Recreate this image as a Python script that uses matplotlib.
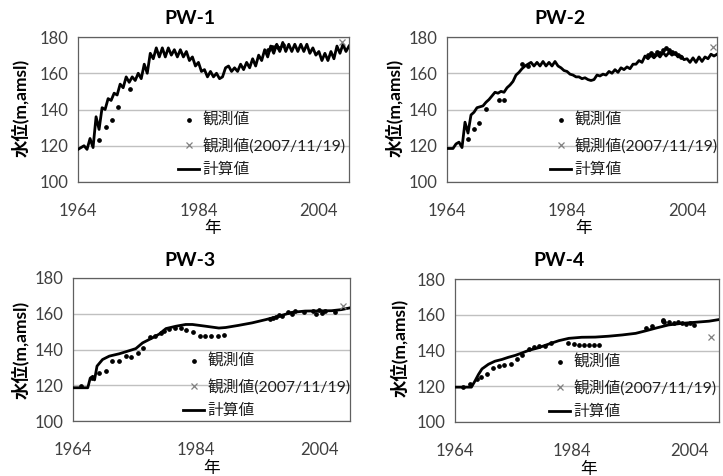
import numpy as np
import matplotlib
matplotlib.use("Agg")
import matplotlib.pyplot as plt
from matplotlib.lines import Line2D

plt.rcParams['font.family'] = ['Lato', 'Noto Sans CJK JP', 'DejaVu Sans']

# 計算値 PW-1, PW-2 : 半年ごとの値 (1964.0 から 2009.0)
calc_start = 1964.0
calc_step = 0.5
calc1 = [118, 119, 120, 118, 124, 119, 136, 129, 141, 140,
         146, 145, 149, 148, 154, 152, 158, 155, 158, 156,
         160, 157, 165, 160, 171, 168, 174, 169, 174, 169,
         174, 170, 173, 169, 173, 169, 172, 167, 169, 164,
         166, 161, 162, 158, 161, 158, 160, 157, 158, 163,
         164, 161, 163, 161, 165, 162, 166, 163, 168, 164,
         170, 167, 173, 169, 175, 171, 176, 172, 177, 172,
         176, 172, 176, 172, 176, 172, 176, 171, 174, 170,
         172, 167, 171, 167, 172, 168, 175, 171, 176, 172,
         175]
calc2 = [118.5, 118.5, 118.5, 121, 122, 119, 133, 127, 137, 138.5,
         141, 141.5, 142, 144, 145.5, 147.5, 149.5, 149, 150, 149.5,
         152, 153.5, 155.5, 159, 160.5, 162.5, 164, 165, 166, 164,
         166, 164, 166.5, 164, 166, 164, 166.5, 164, 163, 161.5,
         161, 159.5, 159, 158, 158, 157, 157.5, 156.5, 156, 156.5,
         159, 158.5, 159.5, 159, 161, 160, 162, 160.5, 163, 162,
         163.5, 162.5, 165, 165, 167, 166, 169.5, 168, 170, 168.5,
         170.5, 169, 171.5, 169.5, 171.5, 170, 171, 169, 169.5, 167.5,
         168, 166, 168.5, 166, 169, 166.5, 169, 168, 170.5, 169.5,
         170.5]

# 計算値 PW-3, PW-4
calc3_years = [1964, 1966.4, 1966.8, 1967.2, 1967.5, 1967.9, 1968.8, 1969.9, 1971.5, 1973.2,
               1974.2, 1975.3, 1976.9, 1978.0, 1979.1, 1980.7, 1982.3, 1983.4, 1985.6, 1987.7,
               1988.8, 1990.9, 1993.1, 1995.3, 1997.4, 1999.6, 2001.7, 2003.9, 2006.0, 2007.6,
               2009.0]
calc3 = [118.6, 118.6, 124, 125, 123, 130.7, 134.4, 136.3, 137.6, 139.4,
         140.5, 143.7, 146.5, 148.6, 151.7, 153, 154, 154, 153, 152,
         152.3, 153.5, 154.9, 156.7, 158.6, 160.8, 161.5, 161.6, 161.7, 162.3,
         163.3]
calc4_years = [1964, 1966.8, 1967.4, 1968.0, 1968.6, 1969.7, 1970.8, 1972.0, 1973.1, 1974.3,
               1975.4, 1976.5, 1978.2, 1979.9, 1981.7, 1983.4, 1985.6, 1987.9, 1990.2, 1992.5,
               1994.8, 1996.5, 1998.2, 2000.4, 2002.7, 2005.0, 2007.3, 2009.0]
calc4 = [119.5, 119.5, 122.9, 126.6, 129.7, 132.3, 134, 135, 136.2, 137.3,
         138.6, 140, 141.5, 143.5, 145.5, 146.8, 147.4, 147.5, 148, 148.7,
         149.6, 151, 152.5, 154.3, 155.2, 155.8, 156.4, 157.3]

# 観測値
obs1_years = [1967.5, 1968.6, 1969.6, 1970.6, 1972.6, 1995.6, 1996.2, 1996.8, 1997.4, 1998.0]
obs1 = [123.4, 130.2, 134.0, 141.4, 151.3, 173.0, 174.5, 175.0, 174.0, 175.5]
obs2_years = [1967.5, 1968.5, 1969.4, 1970.5, 1972.6, 1973.5, 1976.5, 1977.5, 1997.5, 1998.0,
              1998.5, 1999.0, 1999.5, 2000.0, 2000.5, 2001.0, 2001.5, 2002.0, 2002.5, 2003.0]
obs2 = [123.5, 129.3, 132.4, 140.2, 145.0, 145.0, 165.0, 164.2, 170.0, 171.0,
        170.0, 172.0, 171.0, 173.0, 174.0, 173.0, 172.0, 171.0, 170.0, 169.0]
obs3_years = [1965.3, 1967.1, 1968.3, 1969.4, 1970.4, 1971.4, 1972.6, 1973.5, 1974.5, 1975.4,
              1976.5, 1977.4, 1978.3, 1978.8, 1979.6, 1980.6, 1981.5, 1982.4, 1983.5, 1984.6,
              1985.5, 1986.5, 1987.6, 1988.6, 1996.0, 1996.5, 1997.0, 1997.5, 1998.0, 1999.0,
              1999.5, 2000.0, 2001.5, 2003.0, 2003.5, 2004.0, 2004.5, 2005.0, 2006.5]
obs3 = [119.5, 124.2, 127.0, 128.0, 133.3, 133.3, 136.5, 135.8, 138.0, 141.0,
        147.2, 147.8, 149.3, 150.2, 151.5, 152.0, 152.0, 150.7, 149.6, 147.8,
        147.3, 147.3, 147.6, 148.2, 157.0, 157.5, 158.0, 159.5, 158.5, 161.0,
        160.0, 161.5, 161.0, 161.5, 160.0, 162.0, 160.5, 161.5, 161.0]
obs4_years = [1965.4, 1966.6, 1967.7, 1968.4, 1969.4, 1970.4, 1971.5, 1972.4, 1973.5, 1974.6,
              1975.5, 1976.6, 1977.5, 1978.3, 1979.3, 1980.4, 1983.3, 1984.2, 1985.1, 1986.0,
              1986.9, 1987.7, 1988.5, 1996.5, 1997.6, 1999.4, 1999.5, 1999.6, 2000.5, 2001.3,
              2002.0, 2002.7, 2003.4, 2004.1, 2004.8]
obs4 = [119.8, 121.0, 123.8, 125.0, 127.0, 130.1, 131.4, 132.0, 132.3, 135.3,
        137.6, 140.8, 142.0, 142.4, 142.6, 144.2, 144.3, 143.6, 143.2, 143.2,
        143.2, 143.2, 143.2, 152.5, 153.5, 156.8, 156.5, 156.2, 155.7, 155.5,
        156.2, 155.3, 155.0, 155.3, 154.2]

# 観測値(2007/11/19)
cross_years = [2007.8, 2008.3, 2007.9, 2007.7]
cross_vals = [177.2, 174.3, 164.2, 147.5]

titles = ['PW-1', 'PW-2', 'PW-3', 'PW-4']
legend_labels = ['観測値', '観測値(2007/11/19)', '計算値']

calc_years_12 = calc_start + calc_step * np.arange(len(calc1))
calc_x = [calc_years_12, calc_years_12, calc3_years, calc4_years]
calc_y = [calc1, calc2, calc3, calc4]
obs_x = [obs1_years, obs2_years, obs3_years, obs4_years]
obs_y = [obs1, obs2, obs3, obs4]

W, H = 723, 476
fig = plt.figure(figsize=(W / 100, H / 100), dpi=100)

# パネル配置 (ピクセル: 左, 右, 上, 下)
boxes = [(78, 349, 37, 182), (447, 717, 37, 182),
         (73, 350, 278, 421), (455, 719, 279, 422)]
title_pos = [(190, 19), (560, 19), (190, 260), (559, 260)]
ylab_pos = [(20, 108), (394, 108), (20, 350), (399, 348)]
xlab_pos = [(213, 228), (584, 228), (212, 468), (589, 469)]
leg_anchor = [(178, 113), (550, 113), (183, 354), (549, 355)]

tick_color = '#404040'

for i in range(4):
    l, r, t, b = boxes[i]
    ax = fig.add_axes([l / W, 1 - b / H, (r - l) / W, (b - t) / H])
    ax.plot(calc_x[i], calc_y[i], color='black', lw=2, zorder=3)
    ax.plot(obs_x[i], obs_y[i], 'o', color='black', ms=2.4, zorder=4)
    ax.plot(cross_years[i], cross_vals[i], 'x', color='#808080', ms=5, mew=0.9, zorder=4)

    ax.set_xlim(1964, 2009)
    ax.set_ylim(100, 180)
    ax.set_xticks([1964, 1984, 2004])
    ax.set_yticks([100, 120, 140, 160, 180])
    ax.tick_params(length=0, labelsize=12, colors=tick_color)
    ax.tick_params(axis='x', pad=15)
    ax.tick_params(axis='y', pad=7)
    ax.grid(axis='y', color='#c0c0c0', lw=1)
    ax.set_axisbelow(True)
    for s in ax.spines.values():
        s.set_color('#606060')
        s.set_linewidth(0.9)

    handles = [Line2D([], [], ls='none', marker='o', color='black', ms=2.4),
               Line2D([], [], ls='none', marker='x', color='#808080', ms=5, mew=0.9),
               Line2D([], [], color='black', lw=2)]
    ax_ = leg_anchor[i]
    leg = ax.legend(handles, legend_labels, loc='upper left',
                    bbox_to_anchor=((ax_[0] - l) / (r - l), (b - ax_[1]) / (b - t)),
                    frameon=False, fontsize=11.3, borderpad=0, borderaxespad=0,
                    handlelength=1.35, handletextpad=0.2, labelspacing=0.6)
    for txt in leg.get_texts():
        txt.set_color('#202020')

    fig.text(title_pos[i][0] / W, 1 - title_pos[i][1] / H, titles[i],
             ha='center', va='center', fontsize=14, fontweight='bold')
    fig.text(ylab_pos[i][0] / W, 1 - ylab_pos[i][1] / H, '水位(m,amsl)',
             ha='center', va='center', rotation=90, fontsize=12.5, fontweight='bold')
    fig.text(xlab_pos[i][0] / W, 1 - xlab_pos[i][1] / H, '年',
             ha='center', va='center', fontsize=12)

fig.savefig('out.png', dpi=100)
